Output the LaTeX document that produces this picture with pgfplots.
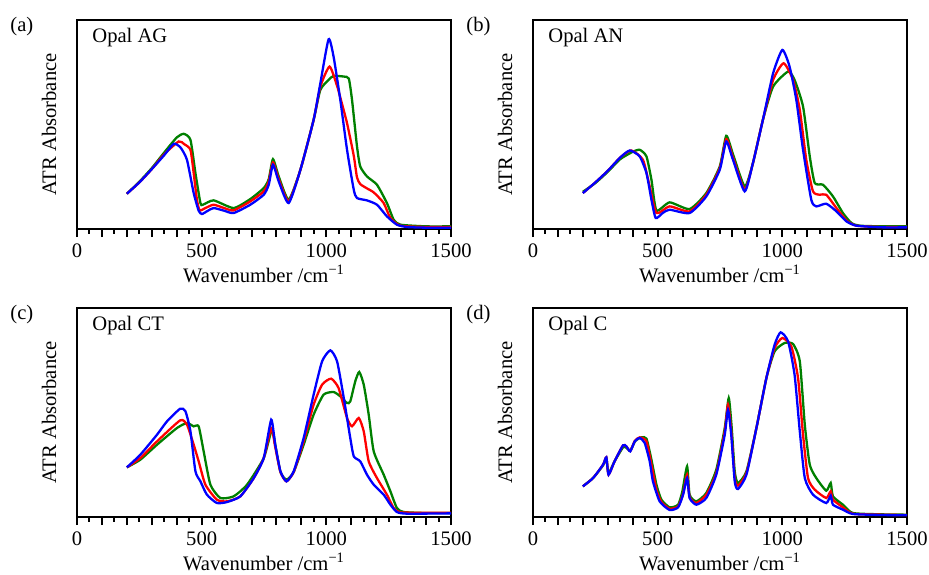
\documentclass[border=0pt]{standalone}
\usepackage{fontspec}
\setmainfont{Liberation Serif}
\usepackage{pgfplots}
\pgfplotsset{compat=1.18}
\definecolor{cb}{RGB}{0,0,255}
\definecolor{cr}{RGB}{255,0,0}
\definecolor{cg}{RGB}{0,128,0}
\pgfplotsset{
  opal/.style={
    scale only axis, width=187pt, height=104.5pt,
    xmin=0, xmax=1500, ymin=0, ymax=628,
    axis line style={line width=1.1pt},
    ytick=\empty,
    xtick={0,100,...,1500},
    xticklabels={0,,,,,500,,,,,1000,,,,,1500},
    minor x tick num=1,
    tick align=outside, xtick pos=bottom,
    major tick length=4pt, minor tick length=2.25pt,
    every tick/.style={line width=1pt, black},
    /pgf/number format/assume math mode=true,
    tick label style={font=\fontsize{10.3}{12}\selectfont},
    xlabel={Wavenumber /cm\textsuperscript{−1}},
    ylabel={ATR Absorbance},
    xlabel style={at={(axis description cs:0.5,0)}, anchor=base, yshift=-26.5pt, font=\fontsize{10.3}{12}\selectfont},
    ylabel style={at={(axis description cs:-0.056,0.5)}, anchor=base, rotate=0, font=\fontsize{10.3}{12}\selectfont},
    every axis plot/.append style={line width=1.15pt, smooth, tension=0.35, no marks},
    clip mode=individual,
  }
}
\newcommand{\panel}[2]{%
  \node[anchor=north west, inner sep=0pt, font=\fontsize{10.3}{12}\selectfont] at ([xshift=-33.5pt,yshift=1.5pt]rel axis cs:0,1) {#1};
  \node[anchor=north west, inner sep=0pt, font=\fontsize{10.3}{12}\selectfont] at ([xshift=7.5pt,yshift=-4pt]rel axis cs:0,1) {#2};
}
\begin{document}
\begin{tikzpicture}
\useasboundingbox (0,0) rectangle (464.5pt,-287pt);
% (a)
\begin{axis}[opal, at={(38.5pt,-114.5pt)}, anchor=south west]
\addplot[cg] coordinates {(200,106)(250,142)(300,183)(350,230)(400,275)(428,286)(455,268)(475,168)(495,78)(505,73)(548,86)(628,63)(695,90)(749,123)(769,150)(786,210)(809,158)(849,88)(896,178)(949,328)(976,418)(1009,448)(1029,460)(1070,458)(1090,452)(1103,388)(1123,248)(1136,188)(1163,158)(1203,133)(1243,78)(1270,28)(1297,13)(1400,8)(1500,8)};
\addplot[cr] coordinates {(200,106)(250,140)(300,180)(350,225)(408,263)(430,255)(455,238)(468,168)(481,88)(492,56)(515,63)(548,73)(590,63)(628,56)(695,83)(749,113)(769,143)(786,200)(809,150)(849,83)(896,178)(949,328)(976,428)(1013,488)(1043,430)(1056,395)(1083,318)(1110,220)(1123,155)(1136,135)(1163,122)(1190,110)(1230,78)(1257,33)(1297,10)(1400,6)(1500,6)};
\addplot[cb] coordinates {(200,106)(250,140)(300,180)(350,222)(388,256)(415,245)(441,208)(468,108)(488,55)(501,45)(525,55)(548,63)(590,55)(628,48)(695,73)(749,103)(769,133)(786,193)(809,143)(849,78)(896,178)(949,328)(976,438)(1009,570)(1029,518)(1056,388)(1083,238)(1110,118)(1123,93)(1163,86)(1203,73)(1243,38)(1283,13)(1324,6)(1400,4)(1500,4)};
\panel{(a)}{Opal AG}
\end{axis}
% (b)
\begin{axis}[opal, at={(266.5pt,-114.5pt)}, anchor=south west]
\addplot[cg] coordinates {(200,112)(250,138)(300,172)(350,210)(400,232)(428,238)(455,218)(475,148)(495,56)(548,80)(628,60)(695,108)(749,188)(775,280)(802,225)(849,128)(882,198)(922,328)(963,428)(1023,473)(1049,448)(1083,368)(1110,218)(1130,138)(1163,133)(1203,98)(1243,48)(1277,18)(1310,10)(1400,8)(1500,8)};
\addplot[cr] coordinates {(200,108)(250,140)(300,175)(350,215)(394,236)(441,208)(468,128)(495,48)(548,68)(628,53)(695,103)(749,183)(775,270)(802,215)(849,118)(882,198)(922,328)(963,448)(1005,498)(1043,448)(1070,358)(1096,208)(1123,113)(1150,103)(1176,103)(1217,63)(1257,26)(1297,10)(1400,6)(1500,6)};
\addplot[cb] coordinates {(200,108)(250,140)(300,175)(350,215)(388,236)(428,218)(455,168)(475,88)(492,33)(520,48)(548,58)(628,48)(695,98)(749,178)(775,263)(802,208)(849,113)(882,198)(922,328)(963,468)(1000,538)(1029,488)(1056,388)(1083,238)(1116,88)(1136,68)(1176,76)(1217,53)(1257,23)(1297,10)(1400,5)(1500,5)};
\panel{(b)}{Opal AN}
\end{axis}
% (c)
\begin{axis}[opal, ymax=627, at={(38.5pt,-258.5pt)}, anchor=south west]
\addplot[cg] coordinates {(200,149)(254,172)(321,217)(401,267)(441,282)(468,272)(488,272)(508,197)(535,97)(575,57)(628,62)(682,97)(749,177)(782,262)(798,205)(816,135)(840,112)(869,135)(909,217)(949,307)(989,367)(1029,375)(1056,362)(1083,342)(1096,347)(1116,407)(1132,435)(1150,397)(1170,307)(1190,197)(1230,127)(1257,77)(1283,27)(1310,15)(1400,12)(1500,12)};
\addplot[cr] coordinates {(200,149)(254,177)(321,227)(414,290)(441,277)(468,217)(488,167)(515,97)(561,52)(602,47)(655,62)(709,117)(749,177)(779,267)(795,210)(816,135)(840,107)(869,135)(909,227)(949,337)(983,397)(1019,415)(1049,387)(1083,297)(1103,272)(1130,297)(1150,257)(1170,167)(1203,117)(1243,67)(1270,27)(1297,14)(1400,13)(1500,13)};
\addplot[cb] coordinates {(200,149)(254,187)(321,247)(361,287)(414,325)(435,317)(455,257)(475,137)(495,107)(521,67)(561,42)(602,45)(655,62)(709,117)(749,177)(779,292)(795,217)(816,137)(840,107)(869,137)(909,237)(949,367)(983,467)(1016,500)(1043,467)(1070,357)(1096,237)(1110,182)(1136,167)(1163,127)(1190,97)(1230,67)(1257,37)(1283,15)(1324,10)(1500,11)};
\panel{(c)}{Opal CT}
\end{axis}
% (d)
\begin{axis}[opal, ymax=627, at={(266.5pt,-258.5pt)}, anchor=south west]
\addplot[cg] coordinates {(200,92)(241,117)(281,155)(294,177)(303,132)(327,167)(361,209)(374,208)(390,199)(410,228)(435,239)(455,235)(475,172)(495,97)(515,52)(548,29)(582,37)(599,77)(618,152)(628,67)(655,47)(695,72)(735,142)(769,267)(785,357)(797,267)(809,137)(822,102)(856,137)(896,267)(936,417)(969,497)(1009,522)(1043,519)(1070,467)(1090,277)(1110,157)(1136,117)(1176,79)(1194,102)(1203,62)(1243,37)(1283,12)(1400,8)(1500,7)};
\addplot[cr] coordinates {(200,92)(241,117)(281,157)(294,179)(303,127)(327,167)(361,215)(374,212)(390,198)(408,228)(428,239)(455,227)(475,157)(495,82)(515,45)(548,25)(582,32)(602,70)(618,127)(628,60)(655,42)(695,67)(735,132)(769,257)(782,337)(795,257)(809,117)(822,94)(856,132)(896,267)(936,417)(969,507)(1000,537)(1036,512)(1063,417)(1083,247)(1103,117)(1130,82)(1176,57)(1194,77)(1203,52)(1243,29)(1283,10)(1400,7)(1500,6)};
\addplot[cb] coordinates {(200,92)(241,117)(281,157)(294,179)(303,127)(327,167)(361,215)(374,212)(390,197)(408,227)(428,237)(448,222)(468,167)(481,107)(508,47)(548,21)(582,29)(602,67)(618,117)(628,57)(655,37)(695,57)(735,127)(769,247)(782,322)(795,247)(809,107)(822,84)(856,127)(896,267)(936,417)(969,517)(993,554)(1023,527)(1049,427)(1070,257)(1090,117)(1123,67)(1176,42)(1194,64)(1203,37)(1243,22)(1283,9)(1400,6)(1500,5)};
\panel{(d)}{Opal C}
\end{axis}
\end{tikzpicture}
\end{document}
